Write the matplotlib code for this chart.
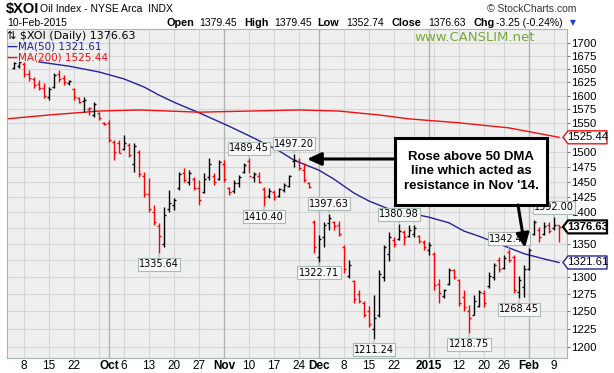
import numpy as np
import matplotlib
matplotlib.use("Agg")
import matplotlib.pyplot as plt
from matplotlib.patches import Polygon, Rectangle
from matplotlib.ticker import NullLocator

# daily bars, day 0 = 4-Sep-2014 ... day 109 = 10-Feb-2015 (trading days)
opens = [1652, 1655, 1660, 1640, 1630, 1622, 1615, 1598, 1616, 1640,
         1632, 1624, 1612, 1596, 1590, 1575, 1565, 1568, 1551, 1550,
         1518, 1515, 1505, 1512, 1480, 1500, 1460, 1430, 1400, 1378,
         1350, 1405, 1412, 1440, 1465, 1450, 1455, 1440, 1432, 1458,
         1460, 1455, 1480, 1440, 1435, 1448, 1466, 1485, 1458, 1460,
         1438, 1426, 1432, 1426, 1436, 1443, 1485, 1484, 1470, 1447,
         1385, 1330, 1360, 1382, 1385, 1380, 1345, 1302, 1294, 1275,
         1262, 1250, 1225, 1245, 1300, 1335, 1356, 1358, 1368, 1362,
         1366, 1362, 1353, 1340, 1335, 1290, 1272, 1290, 1310, 1295,
         1270, 1250, 1245, 1258, 1276, 1286, 1300, 1325, 1314, 1338,
         1330, 1278, 1285, 1312, 1366, 1372, 1366, 1380, 1375, 1379.45]
highs = [1662, 1663, 1663, 1648, 1635, 1629, 1623, 1616, 1642, 1648,
         1638, 1629, 1614, 1598, 1598, 1580, 1588, 1570, 1552, 1556,
         1521, 1521, 1530, 1516, 1516, 1503, 1466, 1456, 1412, 1382,
         1409, 1436, 1423, 1466, 1472, 1469, 1458, 1453, 1464, 1489,
         1464, 1486, 1486, 1441, 1453, 1461, 1481, 1489.45, 1466, 1466,
         1441, 1439, 1436, 1439, 1448, 1461, 1497.20, 1489, 1481, 1449,
         1388, 1364, 1385, 1397.63, 1386, 1386, 1348, 1325, 1296, 1281,
         1265, 1258, 1273, 1310, 1348, 1368, 1361, 1380.98, 1372, 1380,
         1380, 1364, 1356, 1353, 1338, 1297, 1282, 1314, 1312, 1297,
         1281, 1259, 1273, 1281, 1281, 1307, 1321, 1330, 1333, 1342.47,
         1333, 1302, 1318, 1343, 1388, 1377, 1385, 1385, 1392.00, 1379.45]
lows = [1650, 1652, 1635, 1627, 1614, 1610, 1596, 1592, 1614, 1625,
        1620, 1620, 1592, 1587, 1570, 1565, 1562, 1556, 1547, 1517,
        1486, 1498, 1503, 1491, 1466, 1458, 1425, 1401, 1380, 1335.64,
        1345, 1401, 1404, 1436, 1449, 1444, 1436, 1412, 1431, 1453,
        1444, 1453, 1449, 1428, 1431, 1441, 1464, 1464, 1449, 1448,
        1410.40, 1423, 1420, 1425, 1433, 1441, 1474, 1469, 1449, 1439,
        1336, 1322.71, 1345, 1372, 1372, 1362, 1306, 1299, 1262, 1262,
        1242, 1228, 1211.24, 1241, 1294, 1324, 1345, 1356, 1348, 1361,
        1361, 1351, 1341, 1333, 1281, 1262, 1269, 1288, 1297, 1257,
        1250, 1218.75, 1244, 1256, 1256, 1284, 1295, 1307, 1312, 1322,
        1276, 1268.45, 1270, 1310, 1364, 1353, 1364, 1367, 1372, 1352.74]
closes = [1661, 1662, 1640, 1632, 1620, 1615, 1600, 1612, 1638, 1630,
          1626, 1628, 1598, 1588, 1592, 1578, 1585, 1560, 1549, 1520,
          1500, 1498, 1515, 1495, 1510, 1462, 1430, 1405, 1385, 1362,
          1395, 1415, 1420, 1462, 1452, 1465, 1440, 1420, 1455, 1480,
          1450, 1483, 1455, 1432, 1448, 1458, 1478, 1460, 1463, 1450,
          1425, 1435, 1424, 1437, 1445, 1459, 1486, 1472, 1452, 1441,
          1345, 1358, 1380, 1390, 1378, 1366, 1312, 1318, 1268, 1265,
          1245, 1232, 1240, 1305, 1345, 1360, 1350, 1370, 1360, 1372,
          1375, 1355, 1345, 1348, 1288, 1276, 1280, 1310, 1300, 1262,
          1256, 1240, 1265, 1278, 1262, 1302, 1318, 1312, 1328, 1325,
          1280, 1295, 1312, 1340, 1385, 1360, 1378, 1370, 1379.88, 1376.63]

# moving averages (day, value)
ma50_day = [5, 11, 17, 22, 26, 29, 32, 37, 43, 48, 53, 56, 61, 64, 68, 71,
            75, 80, 83, 87, 90, 93, 96, 99, 102, 106, 109]
ma50_val = [1663, 1655, 1644, 1631, 1616, 1601, 1588, 1569, 1545, 1524, 1502,
            1486, 1469, 1454, 1431, 1418, 1405, 1397, 1392, 1383, 1370, 1362,
            1353, 1344, 1335, 1327, 1321.61]
ma200_day = [-1.5, 7, 17, 25, 31, 37, 47, 57, 65, 73, 79, 89, 99, 109]
ma200_val = [1558, 1565, 1572, 1574, 1572, 1570, 1572, 1574, 1572, 1565,
             1558, 1551, 1542, 1525.44]

# x axis
tick_days = [2, 7, 12, 19, 22, 27, 32, 37, 42, 47, 52, 57, 61, 66, 71, 76,
             83, 89, 94, 98, 103, 108]
tick_labels = ["8", "15", "22", "Oct", "6", "13", "20", "27", "Nov", "10", "17",
               "24", "Dec", "8", "15", "22", "2015", "12", "20", "26", "Feb", "9"]
week_days = [2, 7, 12, 17, 22, 27, 32, 37, 47, 52, 57, 66, 71, 76, 80, 84,
             89, 94, 98, 108]
month_days = [19, 42, 61, 83, 103]
price_ticks = list(range(1200, 1701, 25))
hidden_ticks = [1525, 1375, 1325]   # covered by the value tags

# swing high / low call-outs: (day, 'H' or 'L')
callouts = [(29, "L"), (47, "H"), (50, "L"), (56, "H"), (61, "L"), (63, "H"),
            (72, "L"), (77, "H"), (91, "L"), (99, "H"), (101, "L"), (108, "H")]

SANS = "Liberation Sans"
fig = plt.figure(figsize=(6.14, 3.73), dpi=100)
fig.patch.set_facecolor("white")
ax = fig.add_axes([6.5 / 614, 15 / 373, 560 / 614, 329 / 373])
ax.set_facecolor("#efefef")
ax.set_yscale("log")
ax.set_xlim(-1.5, 110.5)
ax.set_ylim(1184.6, 1727)

# grid
for p in price_ticks:
    ax.axhline(p, color="#d6d6d6", lw=0.8, zorder=0)
for d in week_days:
    ax.axvline(d, color="#d6d6d6", lw=0.8, zorder=0)
for d in month_days:
    ax.axvline(d, color="#b2b2b2", lw=1.0, zorder=0)

# OHLC bars
x = np.arange(len(closes))
o = np.array(opens)
h = np.array(highs)
l = np.array(lows)
c = np.array(closes)
up = np.concatenate([[True], c[1:] >= c[:-1]])
cols = np.where(up, "black", "#ff0000")
ax.vlines(x, l, h, colors=cols, lw=1.0, zorder=3)
ax.hlines(o, x - 0.45, x, colors=cols, lw=1.0, zorder=3)
ax.hlines(c, x, x + 0.45, colors=cols, lw=1.0, zorder=3)

# moving averages
ax.plot(ma50_day, ma50_val, color="#23239a", lw=1.0, zorder=2)
ax.plot(ma200_day, ma200_val, color="#f01010", lw=1.0, zorder=2)

# axes styling
for s in ax.spines.values():
    s.set_color("#a3b8ad")
ax.yaxis.tick_right()
ax.set_yticks(price_ticks, ["" if p in hidden_ticks else str(p) for p in price_ticks])
ax.yaxis.set_minor_locator(NullLocator())
ax.tick_params(axis="y", length=2, pad=1.5, color="#777777", labelsize=8.2)
ax.set_xticks(tick_days, tick_labels)
ax.tick_params(axis="x", length=0, pad=1.5, labelsize=8.5)
for t in ax.get_xticklabels() + ax.get_yticklabels():
    t.set_family(SANS)
for t in ax.get_xticklabels():
    if not t.get_text().isdigit() or t.get_text() == "2015":
        t.set_fontweight("bold")

# call-out labels at swing highs / lows
for d, kind in callouts:
    val = highs[d] if kind == "H" else lows[d]
    off = 10 if kind == "H" else -11
    ax.annotate(f"{val:.2f}", xy=(d, val), xytext=(0, off * 0.72),
                textcoords="offset points", ha="center", va="center",
                fontsize=7, family="DejaVu Sans", zorder=5,
                bbox=dict(boxstyle="square,pad=0.15", fc="#f8f8f8", ec="#a9bab1", lw=0.8),
                arrowprops=dict(arrowstyle="-", color="#a9bab1", lw=0.8,
                                shrinkA=0, shrinkB=0.5))

# value tags on right axis
def value_tag(price, edge, bold=False):
    yf = ax.transAxes.inverted().transform(ax.transData.transform((0, price)))[1]
    hh = 6.5 / 329
    tip, bl, br = (563 - 6.5) / 560, (568 - 6.5) / 560, (607 - 6.5) / 560
    poly = Polygon([(tip, yf), (bl, yf + hh), (br, yf + hh), (br, yf - hh), (bl, yf - hh)],
                   closed=True, transform=ax.transAxes, fc="white", ec=edge,
                   lw=1.6 if bold else 1.0, clip_on=False, zorder=6)
    ax.add_patch(poly)
    ax.text((bl + br) / 2, yf, f"{price:.2f}", transform=ax.transAxes, ha="center",
            va="center", fontsize=8.2, family=SANS,
            fontweight="bold" if bold else "normal", zorder=7, clip_on=False)

value_tag(ma200_val[-1], "#f01010")
value_tag(closes[-1], "black", bold=True)
value_tag(ma50_val[-1], "#23239a")

# comment box with arrows
ax.add_patch(Rectangle((0.6938, 0.4650), 0.2714, 0.2037, transform=ax.transAxes,
                       fc="white", ec="black", lw=2.2, zorder=8))
ax.text(0.8295, 0.5669, "Rose above 50 DMA\nline which acted as\nresistance in Nov '14.",
        transform=ax.transAxes, ha="center", va="center", fontsize=9.5,
        fontweight="bold", family=SANS, linespacing=1.3, zorder=9)
arrow = dict(arrowstyle="-|>,head_length=0.7,head_width=0.32", color="black",
             lw=2.2, mutation_scale=12, shrinkA=0, shrinkB=0)
ax.annotate("", xy=(58.6, 1488), xycoords="data", xytext=(0.6938, 0.6049),
            textcoords="axes fraction", arrowprops=arrow, zorder=8)
ax.annotate("", xy=(102.2, 1344), xycoords="data", xytext=(0.9134, 0.4650),
            textcoords="axes fraction", arrowprops=arrow, zorder=8)

# legend inside chart
def fx(px):
    return px / 614

def fy(py):
    return 1 - py / 373

fig.text(fx(7), fy(35.5), "\u21c5 $XOI (Daily) 1376.63", fontsize=8, family="DejaVu Sans", va="center")
fig.text(fx(6), fy(46.7), "\u2014", color="#23239a", fontsize=8, fontweight="bold", va="center")
fig.text(fx(18), fy(46.7), "MA(50) 1321.61", color="#23239a", fontsize=7.5, family="DejaVu Sans", va="center")
fig.text(fx(6), fy(57.3), "\u2014", color="#f01010", fontsize=8, fontweight="bold", va="center")
fig.text(fx(18), fy(57.3), "MA(200) 1525.44", color="#f01010", fontsize=7.5, family="DejaVu Sans", va="center")
fig.text(fx(475), fy(37.5), "www.CANSLIM.net", color="#7aa83a", fontsize=9.5,
         family="DejaVu Sans", ha="center", va="center")

# header
fig.text(fx(6), fy(9), "$XOI", fontsize=10.5, fontweight="bold", family=SANS, va="center")
fig.text(fx(40), fy(9.5), "Oil Index - NYSE Arca  INDX", fontsize=7.5, family=SANS, va="center")
fig.text(fx(576), fy(9.5), "\u00a9 StockCharts.com", fontsize=7.5, family=SANS,
         color="#333333", ha="right", va="center")
fig.text(fx(7), fy(22.5), "10-Feb-2015", fontsize=7.5, family=SANS, va="center")
header = [(166.5, "Open", True), (199, "1379.45", False), (244, "High", True),
          (274, "1379.45", False), (317.5, "Low", True), (346.6, "1352.74", False),
          (391.6, "Close", True), (428, "1376.63", False), (473, "Chg", True),
          (496, "-3.25 (-0.24%)", False)]
for px, txt, bold in header:
    fig.text(fx(px), fy(22.5), txt, fontsize=7.8 if bold else 7.5, family=SANS,
             fontweight="bold" if bold else "normal", va="center")
fig.text(fx(572.5), fy(23), "\u25bc", fontsize=5.5, color="#1a3fd0", ha="center", va="center")

fig.savefig("out.png", dpi=100, facecolor="white")
